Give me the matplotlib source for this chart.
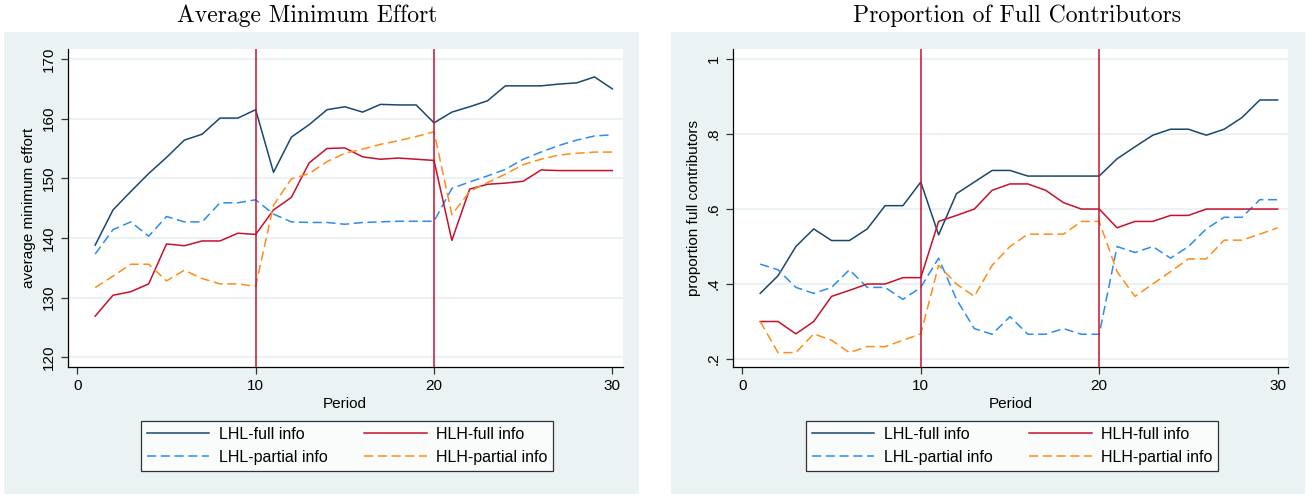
import matplotlib
matplotlib.use("Agg")
import matplotlib.pyplot as plt
from matplotlib.patches import Rectangle
import numpy as np

plt.rcParams["font.family"] = ["Liberation Sans", "DejaVu Sans"]

periods = np.arange(1, 31)

# average minimum effort per period
effort_lhl_full = [138.8, 144.7, 147.8, 150.8, 153.5, 156.4, 157.4, 160.1, 160.1, 161.5,
                   151.0, 156.9, 159.0, 161.5, 162.0, 161.1, 162.4, 162.3, 162.3, 159.3,
                   161.1, 162.0, 163.0, 165.5, 165.5, 165.5, 165.8, 166.0, 167.0, 165.0]
effort_hlh_full = [126.9, 130.4, 131.0, 132.3, 139.0, 138.7, 139.5, 139.5, 140.8, 140.6,
                   144.7, 146.8, 152.6, 155.0, 155.1, 153.6, 153.2, 153.4, 153.2, 153.0,
                   139.6, 148.2, 149.0, 149.2, 149.5, 151.4, 151.3, 151.3, 151.3, 151.3]
effort_lhl_partial = [137.3, 141.4, 142.7, 140.3, 143.6, 142.7, 142.7, 145.9, 145.9, 146.4,
                      144.0, 142.7, 142.6, 142.6, 142.3, 142.6, 142.7, 142.8, 142.8, 142.8,
                      148.3, 149.4, 150.4, 151.5, 153.2, 154.4, 155.5, 156.4, 157.1, 157.3]
effort_hlh_partial = [131.7, 133.6, 135.6, 135.6, 132.8, 134.6, 133.2, 132.3, 132.3, 131.9,
                      145.5, 149.9, 150.8, 152.8, 154.2, 154.9, 155.7, 156.3, 157.0, 157.8,
                      143.9, 147.8, 149.3, 150.7, 152.3, 153.2, 153.9, 154.2, 154.4, 154.4]

# proportion of full contributors per period
prop_lhl_full = [0.375, 0.422, 0.500, 0.547, 0.516, 0.516, 0.547, 0.609, 0.609, 0.672,
                 0.531, 0.641, 0.672, 0.703, 0.703, 0.688, 0.688, 0.688, 0.688, 0.688,
                 0.734, 0.766, 0.797, 0.813, 0.813, 0.797, 0.813, 0.844, 0.891, 0.891]
prop_hlh_full = [0.300, 0.300, 0.267, 0.300, 0.367, 0.383, 0.400, 0.400, 0.417, 0.417,
                 0.567, 0.583, 0.600, 0.650, 0.667, 0.667, 0.650, 0.617, 0.600, 0.600,
                 0.550, 0.567, 0.567, 0.583, 0.583, 0.600, 0.600, 0.600, 0.600, 0.600]
prop_lhl_partial = [0.453, 0.438, 0.391, 0.375, 0.391, 0.438, 0.391, 0.391, 0.359, 0.391,
                    0.469, 0.359, 0.281, 0.266, 0.313, 0.266, 0.266, 0.281, 0.266, 0.266,
                    0.500, 0.484, 0.500, 0.469, 0.500, 0.547, 0.578, 0.578, 0.625, 0.625]
prop_hlh_partial = [0.300, 0.217, 0.217, 0.267, 0.250, 0.217, 0.233, 0.233, 0.250, 0.267,
                    0.450, 0.400, 0.367, 0.450, 0.500, 0.533, 0.533, 0.533, 0.567, 0.567,
                    0.433, 0.367, 0.400, 0.433, 0.467, 0.467, 0.517, 0.517, 0.533, 0.550]

series_labels = ["LHL-full info", "LHL-partial info", "HLH-full info", "HLH-partial info"]
breaks = [10, 20]

NAVY = "#1a476f"
CRAN = "#c8102e"
BLUE = "#2a8cf0"
ORANGE = "#ff8c1a"
BG = "#eaf2f3"

W, H = 1316, 495
fig = plt.figure(figsize=(W / 100, H / 100), dpi=100)


def px_rect(x0, y0, x1, y1):
    """Pixel box (top-left origin) -> figure fraction [l, b, w, h]."""
    return [x0 / W, 1 - y1 / H, (x1 - x0) / W, (y1 - y0) / H]


def draw_panel(box, plot_box, title, title_x, ylabel, data, ylim, yticks, yticklabels):
    l, b, w, h = px_rect(*box)
    fig.add_artist(Rectangle((l, b), w, h, transform=fig.transFigure,
                             facecolor=BG, edgecolor="none", zorder=-5))
    fig.text(title_x / W, 1 - 16 / H, title, ha="center", va="center",
             fontsize=17, family="cmr10")

    ax = fig.add_axes(px_rect(*plot_box))
    ax.set_zorder(2)
    ax.set_facecolor("white")
    styles = [(NAVY, "-"), (BLUE, (0, (6, 3))), (CRAN, "-"), (ORANGE, (0, (6, 3)))]
    handles = []
    for y, (c, ls), lab in zip(data, styles, series_labels):
        ln, = ax.plot(periods, y, color=c, linestyle=ls, lw=1.1, label=lab)
        handles.append(ln)
    for xb in breaks:
        ax.axvline(xb, color=CRAN, lw=1.1, zorder=3)

    ax.set_xlim(-0.54, 30.58)
    ax.set_ylim(*ylim)
    ax.set_xticks([0, 10, 20, 30])
    ax.set_yticks(yticks)
    ax.set_yticklabels(yticklabels, rotation=90, va="center")
    ax.tick_params(axis="both", labelsize=11, length=5, width=0.9, color="#333333")
    ax.grid(axis="y", color=BG, lw=1.5, zorder=0)
    ax.set_axisbelow(True)
    for side in ("top", "right"):
        ax.spines[side].set_visible(False)
    for side in ("left", "bottom"):
        ax.spines[side].set_linewidth(0.9)
    ax.set_xlabel("Period", fontsize=11, labelpad=3)
    ax.set_ylabel(ylabel, fontsize=11, labelpad=4)

    cx = (plot_box[0] + plot_box[2]) / 2 / W
    leg = ax.legend(handles=handles, ncol=2, loc="center",
                    bbox_to_anchor=(cx + 2 / W, 1 - 446 / H), bbox_transform=fig.transFigure,
                    fontsize=11.5, frameon=True, fancybox=False, edgecolor="black",
                    handlelength=3.9, columnspacing=2.3, handletextpad=0.6,
                    borderpad=0.35, labelspacing=0.5)
    leg.get_frame().set_linewidth(0.9)
    return ax


draw_panel((4, 32, 639, 494), (67.7, 49, 622.7, 367),
           "Average Minimum Effort", 307, "average minimum effort",
           [effort_lhl_full, effort_lhl_partial, effort_hlh_full, effort_hlh_partial],
           (118.37, 171.68), [120, 130, 140, 150, 160, 170],
           ["120", "130", "140", "150", "160", "170"])

draw_panel((671, 32, 1305, 494), (732.7, 49, 1288, 367),
           "Proportion of Full Contributors", 1017, "proportion full contributors",
           [prop_lhl_full, prop_lhl_partial, prop_hlh_full, prop_hlh_partial],
           (0.1786, 1.027), [0.2, 0.4, 0.6, 0.8, 1.0],
           [".2", ".4", ".6", ".8", "1"])

fig.savefig("out.png", dpi=100)
